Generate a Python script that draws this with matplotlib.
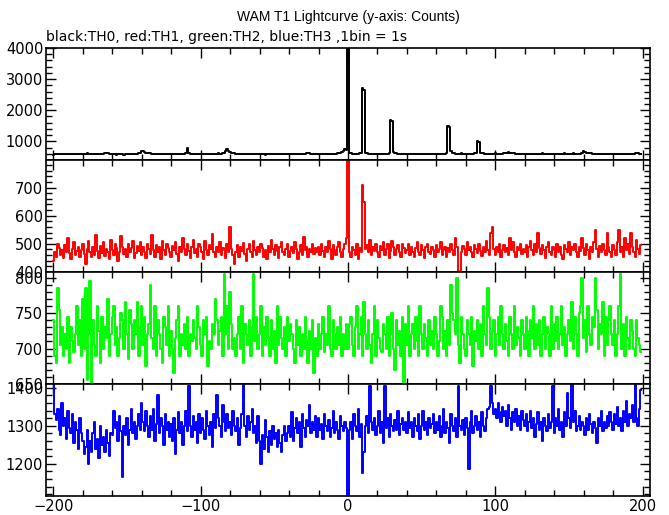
import numpy as np
import matplotlib
matplotlib.use("Agg")
import matplotlib.pyplot as plt
from matplotlib.ticker import MultipleLocator

# time axis: 1 bin = 1 s, from -200 s to 199 s
t = np.arange(-200, 200)

# TH0 (black) counts per bin
th0 = np.array("""
575 580 585 578 590 588 582 595 600 590 585 592 598 604 595 588 590 600 596 592
585 590 602 610 605 598 590 592 600 596 588 584 590 598 606 612 620 615 605 598
592 588 580 576 582 590 585 578 575 580 585 590 592 588 584 590 598 604 612 640
690 700 670 640 625 618 610 600 595 590 592 586 580 584 590 595 590 585 580 578
582 588 592 590 585 580 584 590 596 600 610 800 620 598 592 590 588 595 600 596
590 586 580 585 592 600 604 598 592 596 600 605 610 600 594 610 630 700 760 690
650 630 620 610 604 600 596 592 590 594 600 598 594 588 585 590 596 600 604 598
592 588 584 580 576 580 586 592 596 590 586 590 598 602 596 592 590 588 584 590
596 600 604 600 594 590 596 602 608 600 596 600 610 640 620 604 598 592 588 584
580 584 590 596 600 604 598 592 588 584 590 598 604 610 620 630 660 700 740 720
4200 640 620 600 595 590 598 604 610 620 2700 2650 640 610 600 596 592 600 604 598
594 590 586 584 590 596 600 602 610 1700 1650 660 630 612 600 598 594 590 588 584
580 584 590 596 600 598 594 590 596 602 606 600 594 590 596 604 600 596 592 598
602 596 592 590 588 594 604 620 1500 1450 680 640 620 608 600 596 604 610 600 594
590 586 590 596 600 604 610 612 1000 980 640 620 610 600 596 592 590 596 600 604
610 606 600 596 594 600 610 620 640 660 640 630 620 612 604 600 596 592 590 594
596 600 604 600 596 590 586 584 588 592 600 604 610 606 600 596 592 588 592 598
604 600 596 590 594 600 606 612 608 602 596 600 604 610 606 600 596 592 604 620
700 660 640 630 620 612 606 600 598 594 590 594 600 604 600 596 592 590 588 584
580 584 588 592 596 600 604 600 596 592 588 592 596 600 604 610 620 640 600 596
""".split(), dtype=float)

# TH1 (red)
th1 = np.array("""
440 470 455 500 485 462 478 450 495 470 520 468 445 480 505 460 475 490 452 478
500 465 430 482 510 470 455 488 462 530 475 448 492 468 505 458 482 470 445 515
478 460 500 485 440 472 528 490 465 480 455 498 470 485 510 450 468 492 475 505
462 488 470 450 500 482 465 530 478 455 495 470 488 445 510 478 462 500 485 470
455 492 478 505 465 440 488 472 520 480 462 498 475 450 490 512 468 480 455 500
488 470 445 510 478 462 495 480 535 470 455 490 472 505 460 485 478 450 498 470
560 480 462 430 470 495 455 488 475 502 465 440 482 498 470 455 510 478 462 490
472 500 485 455 478 445 492 470 512 480 460 495 475 450 488 505 470 462 480 498
455 475 490 468 505 480 445 470 495 462 525 478 490 455 480 470 500 465 485 472
488 462 500 475 455 490 470 510 482 445 495 478 460 488 505 470 455 482 498 520
830 470 455 490 478 462 500 445 485 470 710 650 480 495 470 512 462 488 475 500
470 455 492 478 505 462 480 498 450 475 510 488 462 480 495 470 455 500 485 468
478 500 462 490 470 455 485 505 470 462 495 478 450 488 500 472 465 490 478 455
495 470 482 505 460 478 490 455 485 470 500 478 462 520 488 405 400 470 492 480
462 505 478 490 470 455 495 482 468 500 475 458 488 470 510 478 462 540 560 480
462 488 470 500 455 478 495 470 485 462 520 478 505 470 455 490 478 500 465 482
470 495 455 488 510 478 462 500 472 540 485 465 495 478 450 488 505 470 462 490
478 455 500 470 488 462 445 495 480 470 505 462 488 478 500 470 455 490 475 520
485 462 500 478 445 490 470 505 548 480 455 492 470 500 478 462 540 488 470 455
495 478 462 505 548 470 490 455 520 478 500 465 540 488 470 455 512 480 465 495
""".split(), dtype=float)

# TH2 (green)
th2 = np.array("""
740 690 680 785 755 705 730 690 720 700 745 680 730 710 695 720 760 705 740 690
770 700 785 655 720 795 650 740 705 690 760 725 680 745 700 730 715 770 690 720
745 760 705 730 690 715 750 740 700 765 720 685 755 735 700 740 720 765 690 730
760 705 745 675 720 735 790 715 700 760 690 740 720 700 680 745 730 705 760 690
725 700 665 715 740 760 690 720 705 735 700 745 690 720 710 740 715 700 760 730
705 690 740 720 745 675 710 700 735 720 770 740 705 725 745 690 805 720 760 700
780 735 700 715 690 720 745 700 760 680 735 720 705 740 690 730 805 710 745 700
720 760 690 730 705 745 715 690 740 700 725 680 760 705 745 715 700 730 690 745
710 735 720 700 680 740 705 730 690 720 700 745 710 680 725 700 740 665 715 690
735 700 720 745 695 720 705 760 700 690 740 720 700 730 705 745 690 720 700 735
700 735 745 705 690 730 760 700 720 745 690 765 720 700 740 705 680 720 760 690
740 715 700 695 735 720 700 745 690 720 750 700 670 740 705 725 690 745 652 735
705 760 690 720 735 700 745 710 690 760 720 700 735 715 690 740 705 725 700 745
720 690 710 760 745 700 725 690 740 705 790 750 740 720 800 705 680 745 720 700
690 740 720 705 745 675 725 710 740 700 735 690 760 720 705 785 745 700 725 740
690 720 745 705 760 720 700 735 710 690 745 720 700 760 705 730 715 690 740 720
700 745 725 690 740 715 760 700 735 705 740 690 720 745 700 730 720 690 760 700
735 710 745 700 720 760 705 730 690 720 740 710 765 700 745 720 690 750 760 800
715 740 695 760 720 705 745 730 800 755 700 735 720 765 690 745 705 740 760 720
705 740 690 720 760 805 700 735 690 745 715 700 740 725 700 690 740 715 705 695
""".split(), dtype=float)

# TH3 (blue)
th3 = np.array("""
1410 1330 1315 1345 1290 1275 1360 1300 1320 1265 1340 1295 1280 1330 1255 1310 1290 1240 1320 1280
1260 1225 1245 1290 1200 1260 1230 1280 1310 1240 1265 1215 1300 1250 1270 1230 1290 1255 1220 1280
1275 1340 1295 1310 1260 1325 1285 1165 1300 1275 1320 1250 1290 1345 1280 1310 1265 1300 1330 1290
1360 1310 1285 1340 1300 1270 1325 1290 1345 1260 1305 1380 1280 1320 1300 1250 1330 1290 1310 1270
1305 1260 1320 1225 1290 1335 1280 1310 1250 1300 1340 1285 1405 1300 1270 1325 1290 1310 1255 1330
1280 1320 1290 1265 1340 1300 1275 1310 1245 1330 1295 1380 1320 1300 1270 1355 1310 1285 1330 1295
1310 1275 1340 1300 1285 1320 1250 1295 1330 1410 1300 1270 1325 1290 1310 1345 1280 1300 1255 1325
1260 1200 1275 1240 1315 1270 1230 1285 1250 1300 1265 1280 1245 1290 1255 1230 1275 1300 1260 1280
1300 1270 1335 1260 1295 1320 1280 1310 1245 1330 1295 1270 1315 1300 1355 1280 1310 1290 1325 1270
1320 1290 1305 1265 1330 1300 1285 1315 1270 1295 1340 1280 1310 1290 1265 1325 1300 1285 1310 1295
1110 1290 1310 1265 1330 1300 1285 1345 1270 1305 1175 1230 1300 1325 1280 1405 1310 1290 1320 1275
1300 1340 1280 1310 1255 1405 1295 1320 1270 1330 1300 1285 1315 1290 1340 1275 1305 1320 1290 1310
1280 1335 1295 1310 1270 1320 1300 1285 1330 1265 1300 1340 1290 1310 1275 1320 1295 1305 1330 1280
1310 1290 1325 1270 1300 1345 1280 1310 1295 1255 1330 1300 1285 1320 1270 1405 1300 1290 1315 1275
1320 1295 1185 1310 1340 1280 1300 1325 1290 1310 1270 1335 1300 1285 1320 1345 1350 1405 1360 1330
1345 1320 1360 1335 1310 1350 1325 1340 1300 1355 1320 1290 1335 1310 1345 1300 1325 1290 1340 1315
1300 1330 1285 1310 1340 1295 1320 1270 1305 1335 1290 1310 1260 1320 1300 1285 1330 1295 1310 1405
1280 1320 1300 1345 1290 1310 1270 1335 1300 1385 1320 1295 1410 1310 1340 1285 1300 1325 1290 1310
1300 1275 1320 1290 1330 1305 1280 1310 1295 1255 1320 1300 1340 1285 1310 1295 1325 1300 1335 1310
1290 1330 1305 1350 1300 1320 1285 1340 1310 1365 1300 1330 1320 1355 1310 1410 1320 1300 1345 1395
""".split(), dtype=float)

series = [th0, th1, th2, th3]
colors = ["black", "#ff0000", "#00ff00", "#0000ff"]
ylims = [(400, 4000), (400, 798), (650, 808), (1115, 1410)]
ymajor = [1000, 100, 50, 100]
yminor = [200, 20, 10, 20]

W, H = 669, 515
fig = plt.figure(figsize=(W / 100, H / 100), dpi=100)

left, right, top, bottom = 46, 650, 48, 496
ph = (bottom - top) / 4

for k in range(4):
    ax = fig.add_axes([left / W, (H - top - (k + 1) * ph) / H, (right - left) / W, ph / H])
    ax.plot(t, series[k], color=colors[k], lw=1.4, drawstyle="steps-mid")
    ax.set_xlim(-205, 205)
    ax.set_ylim(*ylims[k])
    ax.xaxis.set_major_locator(MultipleLocator(100))
    ax.xaxis.set_minor_locator(MultipleLocator(20))
    ax.yaxis.set_major_locator(MultipleLocator(ymajor[k]))
    ax.yaxis.set_minor_locator(MultipleLocator(yminor[k]))
    ax.tick_params(which="both", direction="in", top=True, right=True,
                   labelsize=10.5, width=1, pad=2)
    ax.tick_params(which="major", length=7)
    ax.tick_params(which="minor", length=4)
    for s in ax.spines.values():
        s.set_linewidth(1.2)
    if k < 3:
        ax.tick_params(labelbottom=False)
    else:
        ax.tick_params(axis="x", pad=2.5)

fig.text((left + right) / 2 / W, 1 - 17 / H, "WAM T1 Lightcurve (y-axis: Counts)",
         ha="center", va="center", fontsize=10, family="Liberation Sans")
fig.text(left / W, 1 - 37 / H, "black:TH0, red:TH1, green:TH2, blue:TH3 ,1bin = 1s",
         ha="left", va="center", fontsize=10, family="DejaVu Sans")

fig.savefig("out.png", dpi=100)
